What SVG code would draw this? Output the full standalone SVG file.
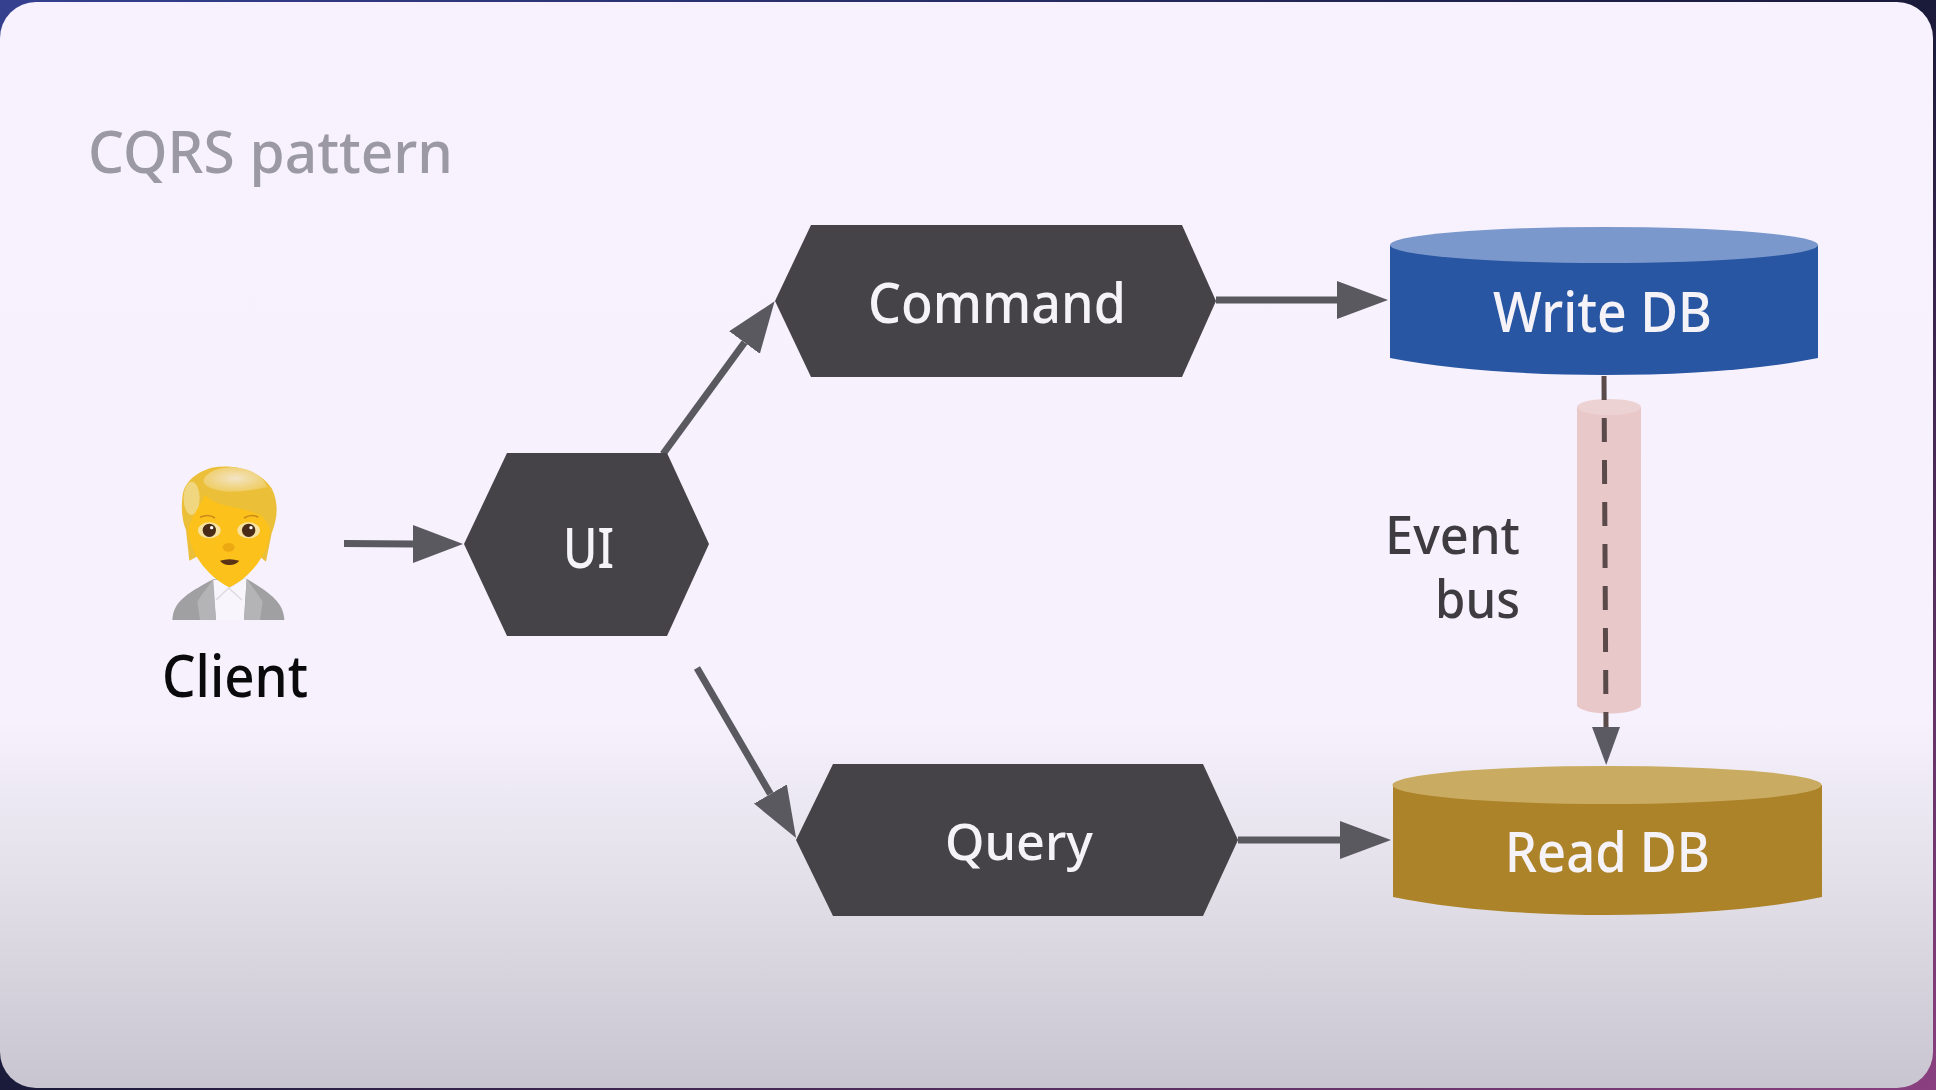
<svg xmlns="http://www.w3.org/2000/svg" width="1936" height="1090" viewBox="0 0 1936 1090">
<style>
.l{font-family:"Noto Sans","Open Sans","Liberation Sans",sans-serif;font-weight:500}
.w{fill:#f6f3f8;font-size:56px}
.hex{fill:#454347}
.c{fill:none;stroke:#5b5960;stroke-width:7}
</style>
<defs>
<linearGradient id="bg" x1="0" y1="0" x2="0" y2="1">
<stop offset="0" stop-color="#f7f2fe"/><stop offset=".66" stop-color="#f6f1fd"/><stop offset=".8" stop-color="#e4e1ea"/><stop offset="1" stop-color="#c8c5d0"/>
</linearGradient>
<linearGradient id="frame" x1="0" y1="0" x2="1" y2="1">
<stop offset="0" stop-color="#35408f"/><stop offset=".5" stop-color="#1a1a3a"/><stop offset="1" stop-color="#8a4080"/>
</linearGradient>
<radialGradient id="hairtop" cx=".5" cy=".45" r=".6"><stop offset="0" stop-color="#f3e4c6"/><stop offset="1" stop-color="#efcb5c"/></radialGradient>
<marker id="a" markerUnits="userSpaceOnUse" markerWidth="52" markerHeight="40" refX="0" refY="19" orient="auto"><path d="M0 0L51 19L0 38Z" fill="#5b5960"/></marker>
<marker id="b" markerUnits="userSpaceOnUse" markerWidth="40" markerHeight="30" refX="0" refY="14" orient="auto"><path d="M0 0L38 14L0 28Z" fill="#5b5a62"/></marker>
</defs>
<rect width="1936" height="1090" fill="url(#frame)"/>
<rect x="0" y="2" width="1933" height="1086" rx="36" fill="url(#bg)"/>
<text class="l" x="88" y="173" font-size="58" fill="#9b99a3" textLength="365" lengthAdjust="spacingAndGlyphs">CQRS pattern</text>

<g id="connectors">
<path class="c" d="M344 543.500L413 544"/>
<path d="M413 525L463 544L413 563Z" fill="#5b5960"/>
<path class="c" d="M663 454L744.500 342.500" marker-end="url(#a)"/>
<path class="c" d="M697 668L770.400 794" marker-end="url(#a)"/>
<path class="c" d="M1216 300L1337 300" marker-end="url(#a)"/>
<path class="c" d="M1238 840L1340 840" marker-end="url(#a)"/>
</g>

<g id="client">
<g transform="translate(120 430) scale(.3333)">
<path d="M157 570C160 520 190 495 280 448L380 446C460 495 490 520 493 570Z" fill="#a0a0a2"/>
<path d="M278 450L380 446L372 570L288 570Z" fill="#f8f5fd"/>
<path d="M280 448L245 495L232 515L240 570H288ZM380 446L415 495L428 515L420 570H372Z" fill="#b4b4b6"/>
<path d="M288 510L326 474L366 510M326 474L370 445" fill="none" stroke="#dcdae0" stroke-width="4"/>
<path d="M208 392L198 300C185 270 183 230 188 195C195 150 235 125 275 113C340 100 420 120 455 175C475 215 475 260 455 310L438 395L420 380H230Z" fill="#ecbf38"/>
<ellipse cx="215" cy="205" rx="24" ry="50" fill="#f0d67e"/>
<path d="M205 300C210 270 235 235 255 195C290 235 360 225 425 258C438 270 447 285 450 300C448 380 378 450 328 472C280 450 208 380 205 300Z" fill="#fcc21b"/>
<path d="M250 150C265 118 310 112 340 112C395 115 430 140 442 172C400 180 340 190 300 182C270 176 250 168 250 150Z" fill="url(#hairtop)"/>
<path d="M240 262Q265 250 285 264M372 264Q395 250 415 262" fill="none" stroke="#c98a1a" stroke-width="5"/>
<ellipse cx="268" cy="301" rx="34" ry="24" fill="#f7e2a0"/><ellipse cx="386" cy="301" rx="34" ry="24" fill="#f7e2a0"/>
<circle cx="268" cy="301" r="20" fill="#4a2c16"/><circle cx="386" cy="301" r="20" fill="#4a2c16"/>
<circle cx="275" cy="293" r="5" fill="#fff"/><circle cx="393" cy="293" r="5" fill="#fff"/>
<ellipse cx="326" cy="352" rx="18" ry="13" fill="#eda912"/>
<path d="M300 392Q328 383 358 392Q345 406 328 405Q312 406 300 392Z" fill="#5a3216"/>
</g>
<text class="l" x="162" y="697" font-size="58" fill="#0a0a0c" textLength="146" lengthAdjust="spacingAndGlyphs">Client</text>
</g>

<g id="ui">
<path class="hex" d="M464 544L507 453H667L709 544L667 636H507Z"/>
<text class="l w" x="563" y="568" textLength="51" lengthAdjust="spacingAndGlyphs">UI</text>
</g>
<g id="command">
<path class="hex" d="M775 301L811 225H1182L1216 301L1182 377H811Z"/>
<text class="l w" x="868" y="323" textLength="258" lengthAdjust="spacingAndGlyphs">Command</text>
</g>
<g id="query">
<path class="hex" d="M796 840L833 764H1203L1238 840L1203 916H833Z"/>
<text class="l w" x="945" y="860" style="font-size:50px" textLength="148" lengthAdjust="spacingAndGlyphs">Query</text>
</g>

<g id="write-db">
<path d="M1390 245V358C1450 370 1530 375 1604 375C1680 375 1760 370 1818 358V245Z" fill="#2856a2"/>
<ellipse cx="1604" cy="245" rx="214" ry="18" fill="#7a98cc"/>
<text class="l w" x="1493" y="332" textLength="219" lengthAdjust="spacingAndGlyphs">Write DB</text>
</g>
<g id="read-db">
<path d="M1393 785V897C1450 909 1530 915 1607 915C1685 915 1765 909 1822 897V785Z" fill="#ac8329"/>
<ellipse cx="1607" cy="785" rx="214.500" ry="19" fill="#c9ac61"/>
<text class="l w" x="1505" y="872" textLength="205" lengthAdjust="spacingAndGlyphs">Read DB</text>
</g>

<g id="event-bus">
<path d="M1577 407V706C1585 716 1633 716 1641 706V407Z" fill="#e9c8c9"/>
<ellipse cx="1609" cy="407" rx="32" ry="8" fill="#edd2d3"/>
<text class="l" x="1385" y="554" font-size="52" fill="#3e3c40" textLength="135" lengthAdjust="spacingAndGlyphs">Event</text>
<text class="l" x="1435" y="618" font-size="52" fill="#3e3c40" textLength="85" lengthAdjust="spacingAndGlyphs">bus</text>
</g>

<g id="bus-connector">
<path d="M1604 376L1606 727" fill="none" stroke="#5a4a4a" stroke-width="5" stroke-dasharray="24 18" marker-end="url(#b)"/>
</g>
</svg>
